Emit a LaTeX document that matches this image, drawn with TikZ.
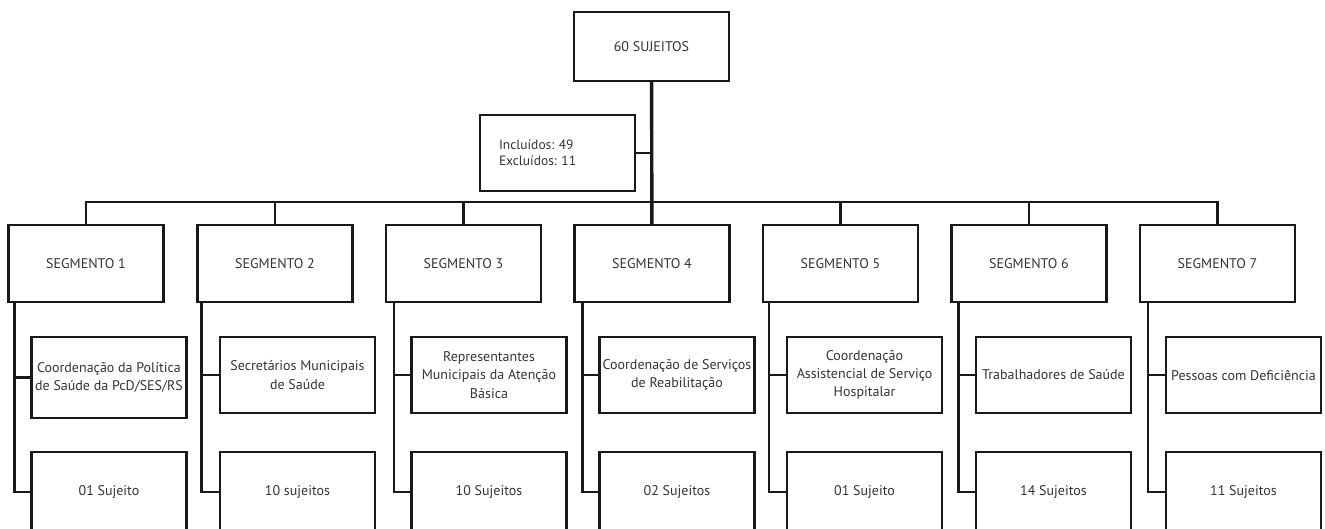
\documentclass[tikz,border=0pt]{standalone}
\usepackage{fontspec}
\setmainfont{PT Sans}
\usetikzlibrary{positioning}
\frenchspacing

\begin{document}
\begin{tikzpicture}[
    x=1pt, y=-1pt,
    font=\fontsize{14}{18.3}\selectfont,
    topbox/.style={rectangle, draw=black!90, line width=2.2pt, minimum width=155pt, minimum height=69pt, inner sep=1pt, align=center, text=black!80},
    segbox/.style={rectangle, draw=black!90, line width=2.2pt, minimum width=155pt, minimum height=77pt, inner sep=1pt, align=center, text=black!80},
    infobox/.style={rectangle, draw=black!90, line width=2.2pt, minimum width=155pt, minimum height=76pt, inner sep=1pt, align=center, text=black!80},
    countbox/.style={rectangle, draw=black!90, line width=2.2pt, minimum width=155pt, minimum height=80pt, inner sep=1pt, align=center, text=black!80},
    notebox/.style={rectangle, draw=black!90, line width=2.2pt, minimum width=155pt, minimum height=76pt, inner xsep=19pt, text width=117pt, align=left, text=black!80, font=\fontsize{13.5}{16}\selectfont},
    link/.style={draw=black!90, line width=2.2pt},
    trunk/.style={draw=black!90, line width=3.4pt}
]
\useasboundingbox (0,0) rectangle (1325,528);
\clip (0,0) rectangle (1325,528);

% Top node and inclusion note
\node[topbox] (total) at (651.5, 46.5) {60 SUJEITOS};
\node[notebox] (note) at (557.5, 153) {Incluídos: 49\\Excluídos: 11};
\coordinate (bar) at (651.5, 202);

% Segment boxes
\node[segbox] (s1) at (86.0, 263.5) {SEGMENTO 1};
\node[segbox] (s2) at (275.0, 263.5) {SEGMENTO 2};
\node[segbox] (s3) at (463.5, 263.5) {SEGMENTO 3};
\node[segbox] (s4) at (652.0, 263.5) {SEGMENTO 4};
\node[segbox] (s5) at (840.5, 263.5) {SEGMENTO 5};
\node[segbox] (s6) at (1029.0, 263.5) {SEGMENTO 6};
\node[segbox] (s7) at (1217.5, 263.5) {SEGMENTO 7};

% Description boxes
\node[infobox, minimum height=81pt] (d1) at (109.0, 377.5) {Coordenação da Política\\de Saúde da PcD/SES/RS};
\node[infobox] (d2) at (297.5, 375) {Secretários Municipais\\de Saúde};
\node[infobox] (d3) at (489.0, 375) {Representantes\\Municipais da Atenção\\Básica};
\node[infobox] (d4) at (677.0, 375) {Coordenação de Serviços\\de Reabilitação};
\node[infobox] (d5) at (864.5, 375) {Coordenação\\Assistencial de Serviço\\Hospitalar};
\node[infobox] (d6) at (1053.5, 375) {Trabalhadores de Saúde};
\node[infobox] (d7) at (1243.5, 375) {Pessoas com Deficiência};

% Count boxes
\node[countbox] (c1) at (109.0, 492) {01 Sujeito};
\node[countbox] (c2) at (297.5, 492) {10 sujeitos};
\node[countbox] (c3) at (489.0, 492) {10 Sujeitos};
\node[countbox] (c4) at (677.0, 492) {02 Sujeitos};
\node[countbox] (c5) at (864.5, 492) {01 Sujeito};
\node[countbox] (c6) at (1053.5, 492) {14 Sujeitos};
\node[countbox] (c7) at (1243.5, 492) {11 Sujeitos};

% Trunk: total -> segment 4, with the note
\draw[trunk] (total) -- (s4);
\draw[link] (note.east) -- (note.east -| total.south);

% Horizontal bar to the segments
\draw[link] (s1.north) -- (s1.north |- bar) -- (s7.north |- bar) -- (s7.north);
\draw[link] (s2.north) -- (s2.north |- bar);
\draw[link] (s3.north) -- (s3.north |- bar);
\draw[link] (s5.north) -- (s5.north |- bar);
\draw[link] (s6.north) -- (s6.north |- bar);

% Segment -> description and count
\draw[link] ([xshift=7pt]s1.south west) |- (c1.west);
\draw[link] ([xshift=7pt]s1.south west |- d1.west) -- (d1.west);
\draw[link] ([xshift=5pt]s2.south west) |- (c2.west);
\draw[link] ([xshift=5pt]s2.south west |- d2.west) -- (d2.west);
\draw[link] ([xshift=9pt]s3.south west) |- (c3.west);
\draw[link] ([xshift=9pt]s3.south west |- d3.west) -- (d3.west);
\draw[link] ([xshift=9pt]s4.south west) |- (c4.west);
\draw[link] ([xshift=9pt]s4.south west |- d4.west) -- (d4.west);
\draw[link] ([xshift=7pt]s5.south west) |- (c5.west);
\draw[link] ([xshift=7pt]s5.south west |- d5.west) -- (d5.west);
\draw[link] ([xshift=8pt]s6.south west) |- (c6.west);
\draw[link] ([xshift=8pt]s6.south west |- d6.west) -- (d6.west);
\draw[link] ([xshift=9pt]s7.south west) |- (c7.west);
\draw[link] ([xshift=9pt]s7.south west |- d7.west) -- (d7.west);

\end{tikzpicture}
\end{document}
